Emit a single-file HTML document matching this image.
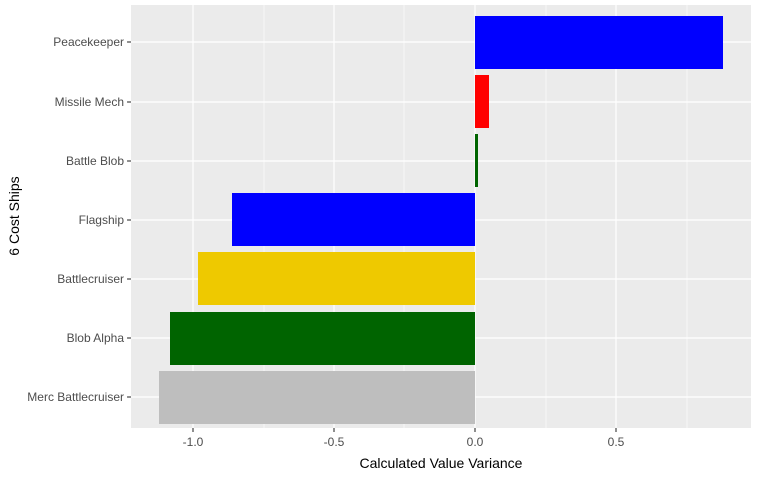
<!DOCTYPE html>
<html><head><meta charset="utf-8"><style>body{margin:0;background:#fff}</style></head><body>
<svg width="759" height="478" xmlns="http://www.w3.org/2000/svg" font-family="Liberation Sans, sans-serif">
<rect width="759" height="478" fill="#fff"/>
<rect x="131" y="5" width="620" height="423" fill="#EBEBEB"/>
<g stroke="#fff" stroke-width="0.6">
<line x1="264" y1="5" x2="264" y2="428"/><line x1="404" y1="5" x2="404" y2="428"/>
<line x1="546" y1="5" x2="546" y2="428"/><line x1="687" y1="5" x2="687" y2="428"/>
</g>
<g stroke="#fff" stroke-width="1.2">
<line x1="193" y1="5" x2="193" y2="428"/><line x1="334" y1="5" x2="334" y2="428"/>
<line x1="475" y1="5" x2="475" y2="428"/><line x1="616" y1="5" x2="616" y2="428"/>
<line x1="131" y1="42" x2="751" y2="42"/><line x1="131" y1="102" x2="751" y2="102"/>
<line x1="131" y1="161" x2="751" y2="161"/><line x1="131" y1="220" x2="751" y2="220"/>
<line x1="131" y1="279" x2="751" y2="279"/><line x1="131" y1="338" x2="751" y2="338"/>
<line x1="131" y1="397" x2="751" y2="397"/>
</g>
<rect x="475" y="16" width="248" height="53" fill="#0000FF"/>
<rect x="475" y="75" width="14" height="53" fill="#FF0000"/>
<rect x="475" y="134" width="3" height="53" fill="#006400"/>
<rect x="232" y="193" width="243" height="53" fill="#0000FF"/>
<rect x="198" y="252" width="277" height="53" fill="#EEC900"/>
<rect x="170" y="312" width="305" height="53" fill="#006400"/>
<rect x="159" y="371" width="316" height="53" fill="#BEBEBE"/>
<g stroke="#333" stroke-width="1.1">
<line x1="193" y1="428" x2="193" y2="432"/><line x1="334" y1="428" x2="334" y2="432"/>
<line x1="475" y1="428" x2="475" y2="432"/><line x1="616" y1="428" x2="616" y2="432"/>
<line x1="127" y1="42" x2="131" y2="42"/><line x1="127" y1="102" x2="131" y2="102"/>
<line x1="127" y1="161" x2="131" y2="161"/><line x1="127" y1="220" x2="131" y2="220"/>
<line x1="127" y1="279" x2="131" y2="279"/><line x1="127" y1="338" x2="131" y2="338"/>
<line x1="127" y1="397" x2="131" y2="397"/>
</g>
<g font-size="12" fill="#4D4D4D" text-anchor="middle">
<text x="193" y="446">-1.0</text><text x="334" y="446">-0.5</text>
<text x="475" y="446">0.0</text><text x="616" y="446">0.5</text>
</g>
<g font-size="12" fill="#4D4D4D" text-anchor="end">
<text x="124" y="46">Peacekeeper</text><text x="124" y="106">Missile Mech</text>
<text x="124" y="165">Battle Blob</text><text x="124" y="224">Flagship</text>
<text x="124" y="283">Battlecruiser</text><text x="124" y="342">Blob Alpha</text>
<text x="124" y="401">Merc Battlecruiser</text>
</g>
<text x="441" y="468" font-size="14" text-anchor="middle" fill="#000">Calculated Value Variance</text>
<text transform="translate(19,216) rotate(-90)" font-size="14" text-anchor="middle" fill="#000">6 Cost Ships</text>
</svg>
</body></html>
